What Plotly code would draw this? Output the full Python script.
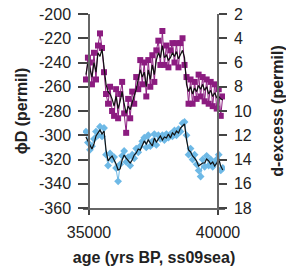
import plotly.graph_objects as go

age = [34880, 34958, 35036, 35114, 35192, 35270, 35348, 35426, 35504, 35582,
       35660, 35738, 35816, 35894, 35972, 36050, 36128, 36206, 36284, 36362,
       36440, 36518, 36596, 36674, 36752, 36830, 36908, 36986, 37064, 37142,
       37220, 37298, 37376, 37454, 37532, 37610, 37688, 37766, 37844, 37922,
       38000, 38078, 38156, 38234, 38312, 38390, 38468, 38546, 38624, 38702,
       38780, 38858, 38936, 39014, 39092, 39170, 39248, 39326, 39404, 39482,
       39560, 39638, 39716, 39794, 39872, 39950, 40028, 40106, 40184]

dxs_raw = [7.4, 5.6, 6.0, 7.8, 5.2, 7.4, 4.6, 3.6, 4.8, 6.8,
           8.6, 9.4, 8.0, 10.0, 10.4, 8.2, 10.6, 8.6, 7.6, 10.2,
           11.8, 9.0, 10.6, 8.4, 9.4, 7.2, 8.2, 5.8, 7.8, 6.0,
           8.8, 5.8, 8.0, 5.4, 7.6, 5.0, 4.2, 6.2, 3.4, 6.2,
           4.6, 6.4, 5.0, 4.4, 6.0, 4.4, 6.4, 4.4, 4.0, 6.2,
           7.2, 9.4, 7.4, 9.4, 7.6, 9.0, 7.0, 8.8, 7.2, 9.2,
           7.4, 9.4, 7.6, 9.6, 7.8, 9.8, 8.2, 10.4, 8.8]

dxs_smooth = [7.0, 6.0, 6.5, 7.2, 6.0, 6.8, 5.2, 5.5, 4.9, 6.2,
              7.8, 8.4, 8.6, 9.0, 9.6, 8.8, 9.8, 9.2, 8.4, 9.4,
              10.2, 9.6, 9.9, 9.3, 8.8, 8.2, 7.4, 6.6, 7.2, 6.8,
              8.0, 6.6, 7.4, 6.2, 7.0, 5.8, 5.2, 5.6, 4.6, 5.6,
              5.4, 5.8, 5.6, 5.2, 5.5, 5.1, 5.7, 5.3, 5.0, 5.6,
              7.8, 8.4, 8.0, 8.6, 8.1, 8.4, 7.9, 8.2, 7.8, 8.3,
              8.0, 8.6, 8.3, 8.8, 8.5, 8.9, 8.8, 9.0, 9.1]

dD_raw = [-297, -306, -312, -309, -303, -297, -300, -293, -301, -294,
          -316, -325, -315, -320, -318, -327, -338, -324, -317, -313,
          -322, -318, -325, -316, -319, -311, -314, -309, -305, -302,
          -310, -300, -309, -305, -299, -308, -300, -303, -300, -304,
          -299, -302, -299, -301, -296, -300, -295, -297, -290, -289,
          -300, -316, -311, -320, -316, -324, -329, -334, -320, -326,
          -317, -325, -320, -326, -323, -320, -316, -329, -327]

dD_smooth = [-301.4, -304.7, -308.9, -311.3, -307.2, -300.6, -298.1, -295.7, -299.0, -296.5,
             -312.2, -321.2, -318.8, -317.1, -320.4, -323.7, -328.7, -327.8, -320.4, -316.3,
             -318.8, -321.2, -322.9, -320.4, -316.3, -314.6, -311.3, -312.2, -308.0, -304.7,
             -307.2, -303.9, -306.4, -308.9, -302.3, -305.6, -303.1, -300.6, -303.9, -301.4,
             -302.3, -299.0, -302.3, -298.1, -299.8, -296.5, -298.1, -294.0, -292.4, -290.7,
             -303.9, -312.2, -313.8, -317.1, -318.8, -321.2, -325.4, -324.5, -322.9, -322.9,
             -319.6, -321.2, -323.7, -322.1, -325.4, -322.9, -319.6, -325.4, -328.7]

left_ticks = [-200, -220, -240, -260, -280, -300, -320, -340, -360]
right_ticks = [2, 4, 6, 8, 10, 12, 14, 16, 18]
x_ticks = [35000, 40000]

PURPLE = "rgb(140,28,128)"
BLUE = "rgb(110,185,230)"
FONT = "Arial, Liberation Sans, Helvetica, sans-serif"

fig = go.Figure()
fig.add_trace(go.Scatter(x=age, y=dD_raw, mode="lines+markers", yaxis="y",
                         line=dict(color=BLUE, width=1),
                         marker=dict(symbol="diamond", size=6, color=BLUE),
                         showlegend=False))
fig.add_trace(go.Scatter(x=age, y=dD_smooth, mode="lines", yaxis="y",
                         line=dict(color="#111111", width=1.2), showlegend=False))
fig.add_trace(go.Scatter(x=age, y=dxs_raw, mode="lines+markers", yaxis="y2",
                         line=dict(color=PURPLE, width=1),
                         marker=dict(symbol="square", size=6, color=PURPLE),
                         showlegend=False))
fig.add_trace(go.Scatter(x=age, y=dxs_smooth, mode="lines", yaxis="y2",
                         line=dict(color="#111111", width=1.2), showlegend=False))

axis_common = dict(showgrid=False, zeroline=False, showline=True,
                   linecolor="#666666", linewidth=1.5, ticks="outside",
                   tickcolor="#444444", tickwidth=1.5, automargin=False,
                   ticklabelstandoff=4,
                   tickfont=dict(family=FONT, size=16, color="#222222"))

fig.update_layout(
    width=286, height=280,
    margin=dict(l=83, r=61, t=14, b=72, autoexpand=False),
    paper_bgcolor="white", plot_bgcolor="white",
    font=dict(family=FONT, color="#222222"),
    xaxis=dict(range=[34767, 40271], tickvals=x_ticks,
               ticktext=[str(v) for v in x_ticks], ticklen=5,
               title=dict(text="<b>age (yrs BP, ss09sea)</b>", standoff=12,
                          font=dict(family=FONT, size=16, color="#222222")),
               **axis_common),
    yaxis=dict(range=[-360, -200], tickvals=left_ticks,
               ticktext=[str(v) for v in left_ticks], ticklen=10,
               anchor="free", position=0.0423, side="left",
               title=dict(text="<b>ϕD (permil)</b>", standoff=6,
                          font=dict(family=FONT, size=16, color="#222222")),
               **axis_common),
    yaxis2=dict(range=[18, 2], tickvals=right_ticks,
                ticktext=[str(v) for v in right_ticks], ticklen=8,
                anchor="free", position=0.9507, side="right", overlaying="y",
                title=dict(text="<b>d-excess (permil)</b>", standoff=20,
                           font=dict(family=FONT, size=16, color="#222222")),
                **axis_common),
)

fig.write_html("out.html", config={"displayModeBar": False},
               post_script="document.body.style.margin='0';document.body.style.padding='0';")
